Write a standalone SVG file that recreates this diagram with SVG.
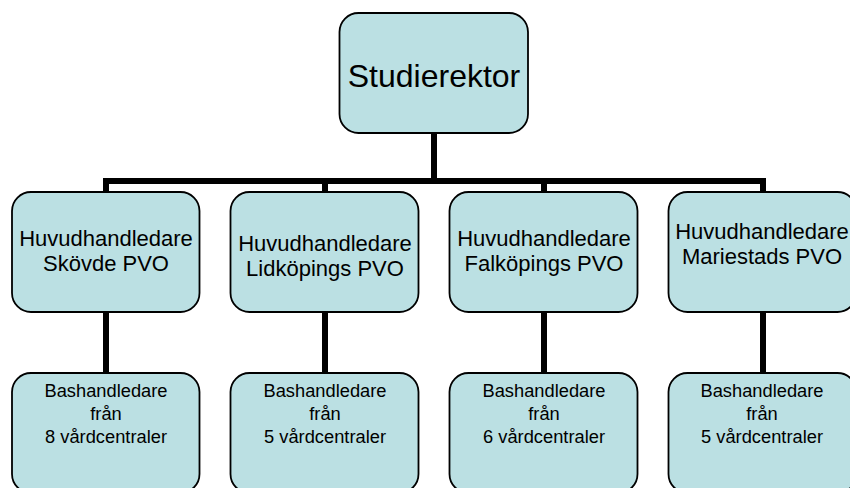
<svg xmlns="http://www.w3.org/2000/svg" width="850" height="488" viewBox="0 0 850 488">
  <style>
    .box { fill: #BBE0E3; stroke: #000; stroke-width: 1.8; }
    .t { font-family: "Liberation Sans", Arial, sans-serif; fill: #000; text-anchor: middle; }
    .t1 { font-size: 32px; }
    .t2 { font-size: 22px; }
    .t3 { font-size: 18.3px; }
    .conn { stroke: #000; stroke-width: 6; fill: none; }
  </style>
  <rect width="850" height="488" fill="#fff"/>
  <g id="connectors">
    <line class="conn" x1="434" y1="133" x2="434" y2="181"/>
    <line class="conn" x1="103" y1="181" x2="766" y2="181"/>
    <line class="conn" x1="106" y1="181" x2="106" y2="192"/>
    <line class="conn" x1="325" y1="181" x2="325" y2="192"/>
    <line class="conn" x1="544" y1="181" x2="544" y2="192"/>
    <line class="conn" x1="763" y1="181" x2="763" y2="192"/>
    <line class="conn" x1="106" y1="312" x2="106" y2="373"/>
    <line class="conn" x1="325" y1="312" x2="325" y2="373"/>
    <line class="conn" x1="544" y1="312" x2="544" y2="373"/>
    <line class="conn" x1="763" y1="312" x2="763" y2="373"/>
  </g>
  <g id="studierektor">
    <rect class="box" x="339.5" y="13" width="188.5" height="120" rx="19"/>
    <text class="t t1" x="434" y="87">Studierektor</text>
  </g>
  <g id="hh-skovde">
    <rect class="box" x="12" y="192" width="187.5" height="120" rx="19"/>
    <text class="t t2" x="106" y="246">Huvudhandledare</text>
    <text class="t t2" x="106" y="271">Skövde PVO</text>
  </g>
  <g id="hh-lidkoping">
    <rect class="box" x="230.5" y="192" width="188" height="120" rx="19"/>
    <text class="t t2" x="325" y="251">Huvudhandledare</text>
    <text class="t t2" x="325" y="276">Lidköpings PVO</text>
  </g>
  <g id="hh-falkoping">
    <rect class="box" x="449.5" y="192" width="188" height="120" rx="19"/>
    <text class="t t2" x="544" y="246">Huvudhandledare</text>
    <text class="t t2" x="544" y="271">Falköpings PVO</text>
  </g>
  <g id="hh-mariestad">
    <rect class="box" x="668.5" y="192" width="188" height="120" rx="19"/>
    <text class="t t2" x="762" y="239">Huvudhandledare</text>
    <text class="t t2" x="762" y="264">Mariestads PVO</text>
  </g>
  <g id="bh-skovde">
    <rect class="box" x="12" y="373" width="187.5" height="120" rx="19"/>
    <text class="t t3" x="106" y="397">Bashandledare</text>
    <text class="t t3" x="106" y="420">från</text>
    <text class="t t3" x="106" y="443">8 vårdcentraler</text>
  </g>
  <g id="bh-lidkoping">
    <rect class="box" x="230.5" y="373" width="188" height="120" rx="19"/>
    <text class="t t3" x="325" y="397">Bashandledare</text>
    <text class="t t3" x="325" y="420">från</text>
    <text class="t t3" x="325" y="443">5 vårdcentraler</text>
  </g>
  <g id="bh-falkoping">
    <rect class="box" x="449.5" y="373" width="188" height="120" rx="19"/>
    <text class="t t3" x="544" y="397">Bashandledare</text>
    <text class="t t3" x="544" y="420">från</text>
    <text class="t t3" x="544" y="443">6 vårdcentraler</text>
  </g>
  <g id="bh-mariestad">
    <rect class="box" x="668.5" y="373" width="188" height="120" rx="19"/>
    <text class="t t3" x="762" y="397">Bashandledare</text>
    <text class="t t3" x="762" y="420">från</text>
    <text class="t t3" x="762" y="443">5 vårdcentraler</text>
  </g>
</svg>
